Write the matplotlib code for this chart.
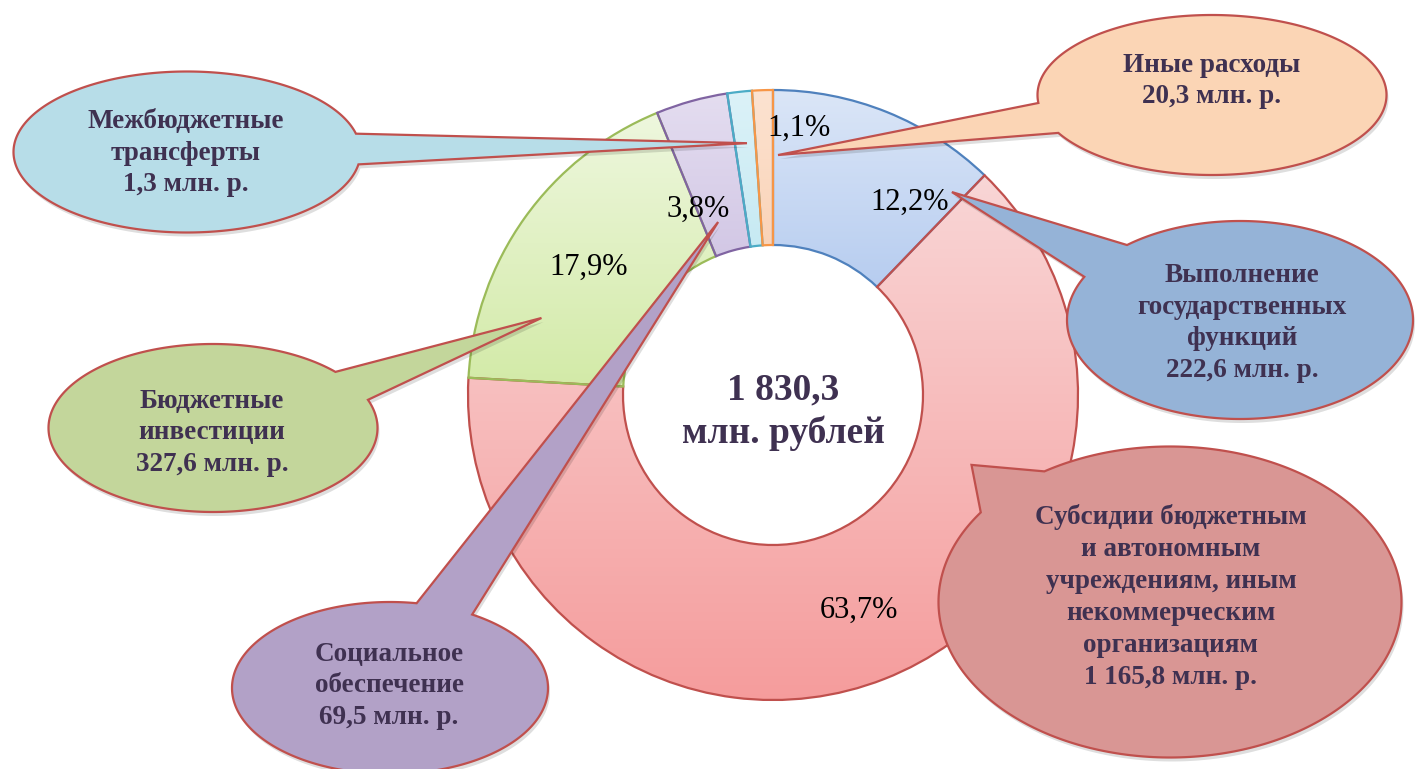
import numpy as np
import matplotlib
matplotlib.use("Agg")
import matplotlib.pyplot as plt
from matplotlib.path import Path
from matplotlib.patches import PathPatch
from matplotlib.colors import LinearSegmentedColormap

# ---------------- data ----------------
categories = [
    "Выполнение государственных функций",
    "Субсидии бюджетным и автономным учреждениям, иным некоммерческим организациям",
    "Бюджетные инвестиции",
    "Социальное обеспечение",
    "Межбюджетные трансферты",
    "Иные расходы",
]
shares = [12.2, 63.7, 17.9, 3.8, 1.3, 1.1]
pct_labels = ["12,2%", "63,7%", "17,9%", "3,8%", "", "1,1%"]
callout_texts = [
    "Выполнение\nгосударственных\nфункций\n222,6 млн. р.",
    "Субсидии бюджетным\nи автономным\nучреждениям, иным\nнекоммерческим\nорганизациям\n1 165,8 млн. р.",
    "Бюджетные\nинвестиции\n327,6 млн. р.",
    "Социальное\nобеспечение\n69,5 млн. р.",
    "Межбюджетные\nтрансферты\n1,3 млн. р.",
    "Иные расходы\n20,3 млн. р.",
]
total_text = "1 830,3\nмлн. рублей"

# ---------------- style ----------------
W, H = 1415, 769
grad_top = ["#dbe6f7", "#f9d6d6", "#eef7de", "#e4ddf0", "#dcf2f8", "#fce3d1"]
grad_bot = ["#a3bfec", "#f59c9c", "#d2eaa6", "#c3b5dc", "#b2e2ee", "#f8c4a0"]
edge_cols = ["#4f81bd", "#c0504d", "#9bbb59", "#8064a2", "#4bacc6", "#f79646"]
bubble_cols = ["#95b3d7", "#d99694", "#c3d69b", "#b2a1c7", "#b7dde8", "#fbd5b5"]
bubble_edge = "#c0504d"
text_col = "#3f3151"
serif = ["Liberation Serif", "DejaVu Serif"]

# layout (image pixel coords, y downward)
pie_c_img = (773, 395)
R_out = 305
ring_w = 155
# percent label placement: (angle deg, radius fraction)
pct_pos = [(54.6, 0.776), (-68.2, 0.76), (145.2, 0.735), (112.0, 0.655), (0, 0), (84.4, 0.88)]
# callout tips: (angle deg, radius fraction)
tip_pos = [(48.6, 0.887), (-19.4, 0.69), (161.6, 0.80), (107.6, 0.595), (95.9, 0.83), (88.8, 0.787)]
# callout ellipses: center x, center y, width, height
bub_geom = [
    (1240, 320, 346, 198),
    (1170, 602, 463, 311),
    (213, 428, 329, 168),
    (390, 688, 316, 172),
    (187, 152, 347, 161),
    (1212, 95, 349, 160),
]
# tail base points on ellipse
bub_base = [
    ((1127, 245), (1085, 277)),
    ((1045, 472), (982, 513)),
    ((333, 373), (367, 400)),
    ((417, 602), (475, 612)),
    ((353, 134), (367, 165)),
    ((1038, 103), (1058, 133)),
]
bub_text = [(1242, 323), (1171, 597), (212, 433), (389, 686), (186, 153), (1212, 81)]


def P(x, y):
    return (x, H - y)


fig = plt.figure(figsize=(W / 100, H / 100), dpi=100)
ax = fig.add_axes([0, 0, 1, 1])

cx, cy = P(*pie_c_img)
wedges, _ = ax.pie(
    shares, startangle=90, counterclock=False, radius=R_out, center=(cx, cy),
    colors=grad_bot, wedgeprops=dict(width=ring_w, linewidth=1.6),
)

for i, w in enumerate(wedges):
    v = w.get_path().vertices
    xmin, ymin = v.min(0)
    xmax, ymax = v.max(0)
    cmap = LinearSegmentedColormap.from_list("g%d" % i, [grad_bot[i], grad_top[i]])
    grad = np.linspace(0, 1, 256).reshape(-1, 1)
    im = ax.imshow(grad, cmap=cmap, extent=[xmin, xmax, ymin, ymax], origin="lower",
                   aspect="auto", zorder=1, interpolation="bicubic")
    im.set_clip_path(w)
    w.set_facecolor("none")
    w.set_edgecolor(edge_cols[i])
    w.set_zorder(2)

# percent labels
for i, lab in enumerate(pct_labels):
    if not lab:
        continue
    ang, rf = pct_pos[i]
    x = cx + rf * R_out * np.cos(np.radians(ang))
    y = cy + rf * R_out * np.sin(np.radians(ang))
    ax.text(x, y, lab, ha="center", va="center", fontsize=22, family=serif,
            color="black", zorder=3)

# centre text
ax.text(cx + 10, cy - 17, total_text, ha="center", va="center", fontsize=27,
        fontweight="bold", family=serif, color=text_col, linespacing=1.3, zorder=3)


def bubble_path(bcx, bcy, a, b, p1, p2, tip):
    t1 = np.arctan2((p1[1] - bcy) / b, (p1[0] - bcx) / a)
    t2 = np.arctan2((p2[1] - bcy) / b, (p2[0] - bcx) / a)
    d = (t2 - t1) % (2 * np.pi)
    if d < np.pi:
        start, end = t2, t1 + 2 * np.pi
        if end <= start:
            end += 2 * np.pi
    else:
        start, end = t1, t1 + d
    ts = np.linspace(start, end, 300)
    pts = np.column_stack([bcx + a * np.cos(ts), bcy + b * np.sin(ts)])
    verts = np.vstack([pts, [tip], pts[:1]])
    codes = [Path.MOVETO] + [Path.LINETO] * (len(verts) - 2) + [Path.CLOSEPOLY]
    return Path(verts, codes)


for i in range(len(categories)):
    ex, ey, ew, eh = bub_geom[i]
    bcx, bcy = P(ex, ey)
    p1 = P(*bub_base[i][0])
    p2 = P(*bub_base[i][1])
    ang, rf = tip_pos[i]
    tip = (cx + rf * R_out * np.cos(np.radians(ang)), cy + rf * R_out * np.sin(np.radians(ang)))
    path = bubble_path(bcx, bcy, ew / 2, eh / 2, p1, p2, tip)
    shadow = PathPatch(path.transformed(matplotlib.transforms.Affine2D().translate(2, -4)),
                       facecolor="#000000", alpha=0.13, lw=0, zorder=4 + i * 0.1)
    ax.add_patch(shadow)
    patch = PathPatch(path, facecolor=bubble_cols[i], edgecolor=bubble_edge, lw=1.6,
                      zorder=4.05 + i * 0.1)
    ax.add_patch(patch)
    tx, ty = P(*bub_text[i])
    ax.text(tx, ty, callout_texts[i], ha="center", va="center", fontsize=19.5,
            fontweight="bold", family=serif, color=text_col, linespacing=1.36,
            zorder=4.08 + i * 0.1)

ax.set_xlim(0, W)
ax.set_ylim(0, H)
ax.set_aspect("auto")
ax.axis("off")
fig.savefig("out.png", dpi=100, facecolor="white")
